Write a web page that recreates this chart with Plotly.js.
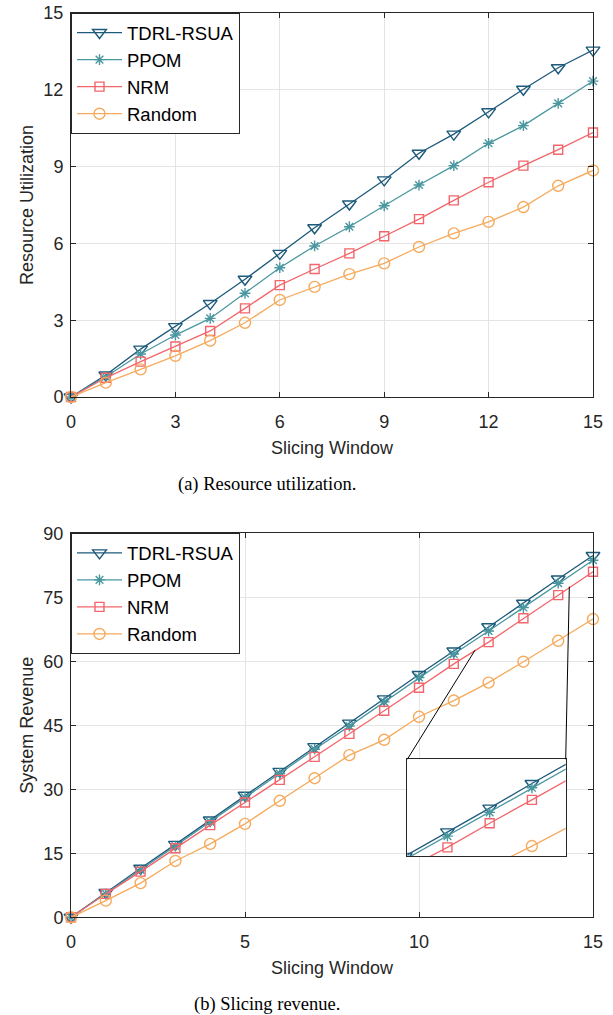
<!DOCTYPE html>
<html>
<head>
<meta charset="utf-8">
<script src="https://cdn.plot.ly/plotly-3.0.1.min.js"></script>
<style>html,body{margin:0;padding:0;background:#fff;}</style>
</head>
<body>
<div id="chart" style="width:613px;height:1015px;"></div>
<script>
// ---- data ----
const slots = [0,1,2,3,4,5,6,7,8,9,10,11,12,13,14,15];
const seriesNames = ['TDRL-RSUA','PPOM','NRM','Random'];

const utilTDRL   = [0,0.86,1.87,2.75,3.65,4.60,5.61,6.61,7.54,8.48,9.52,10.27,11.14,12.02,12.86,13.55];
const utilPPOM   = [0,0.79,1.68,2.42,3.07,4.05,5.05,5.90,6.65,7.47,8.28,9.04,9.91,10.60,11.47,12.34];
const utilNRM    = [0,0.75,1.38,1.97,2.58,3.46,4.37,5.00,5.61,6.28,6.95,7.68,8.39,9.04,9.66,10.33];
const utilRandom = [0,0.56,1.08,1.61,2.20,2.90,3.79,4.30,4.80,5.22,5.86,6.39,6.84,7.42,8.25,8.85];

const revTDRL   = [0,5.8,11.5,17.1,22.8,28.6,34.2,40.0,45.5,51.2,56.9,62.4,68.1,73.6,79.3,84.8];
const revPPOM   = [0,5.5,11.1,16.7,22.4,28.1,33.7,39.4,44.8,50.5,56.2,61.7,67.1,72.6,78.3,83.7];
const revNRM    = [0,5.5,10.7,16.2,21.6,26.9,32.2,37.6,43.0,48.4,53.8,59.4,64.5,70.1,75.5,81.0];
const revRandom = [0,3.9,8.0,13.2,17.2,21.9,27.3,32.6,38.0,41.6,47.0,50.8,55.0,59.9,64.8,69.9];

const utilTicks = [0,3,6,9,12,15];
const revXTicks = [0,5,10,15];
const revYTicks = [0,15,30,45,60,75,90];

// zoomed region of the inset (x: slicing window, y: revenue)
const insetXRange = [11.05, 14.8];
const insetYRange = [62.5, 84.9];
// points on the main curve that the inset connector lines point to
const connectX = [11.61, 14.32];
const connectY = [62.6, 77.5];

// ---- styling ----
const colors  = ['#1d5a7b','#4a97a0','#f2666b','#f6aa5c'];
const symbols = ['triangle-down-open','asterisk-open','square-open','circle-open'];
const msizes  = [12,9,9,11];
const FONT = '"Liberation Sans", Arial, Helvetica, sans-serif';
const SERIF = '"Liberation Serif", "Times New Roman", Times, serif';
const AX = '#262626';

const W = 613, H = 1015;
const xDom = [71/W, 593/W];
const yDomTop = [1-397/H, 1-13/H];
const yDomBot = [1-917.3/H, 1-533.3/H];
const xDomIn = [407.3/W, 565.7/W];
const yDomIn = [1-856/H, 1-759.3/H];

const utilSeries = [utilTDRL, utilPPOM, utilNRM, utilRandom];
const revSeries  = [revTDRL, revPPOM, revNRM, revRandom];

const traces = [];
function mk(y, i, xa, ya, legend, showlegend, clip) {
  return {
    x: slots, y: y, name: seriesNames[i], type: 'scatter', mode: 'lines+markers',
    xaxis: xa, yaxis: ya, legend: legend, showlegend: showlegend, cliponaxis: clip,
    line: {color: colors[i], width: 1.3},
    marker: {symbol: symbols[i], size: msizes[i], color: colors[i], line: {color: colors[i], width: 1.4}}
  };
}
utilSeries.forEach((s,i) => traces.push(mk(s, i, 'x', 'y', 'legend', true, false)));
revSeries.forEach((s,i) => traces.push(mk(s, i, 'x2', 'y2', 'legend2', true, false)));
revSeries.forEach((s,i) => traces.push(mk(s, i, 'x3', 'y3', 'legend2', false, true)));

function baseAxis(extra) {
  return Object.assign({
    showgrid: true, gridcolor: '#e4e4e4', gridwidth: 1,
    zeroline: false, showline: true, linecolor: AX, linewidth: 1, mirror: 'ticks',
    ticks: 'inside', ticklen: 5, tickcolor: AX, tickwidth: 1,
    tickfont: {family: FONT, size: 18, color: AX},
    fixedrange: true
  }, extra);
}

// map data coords of bottom main axes to paper coords
const xR2 = [0,15], yR2 = [0,90];
function px(v, r, d) { return d[0] + (v - r[0]) / (r[1] - r[0]) * (d[1] - d[0]); }

const shapes = [
  // white background of inset, hides the main grid behind it
  {type: 'rect', xref: 'x3', yref: 'y3',
   x0: insetXRange[0], x1: insetXRange[1], y0: insetYRange[0], y1: insetYRange[1],
   fillcolor: '#ffffff', line: {width: 0}, layer: 'below'},
  // connector lines
  {type: 'line', xref: 'paper', yref: 'paper',
   x0: xDomIn[0], y0: yDomIn[1], x1: px(connectX[0], xR2, xDom), y1: px(connectY[0], yR2, yDomBot),
   line: {color: '#000', width: 1}},
  {type: 'line', xref: 'paper', yref: 'paper',
   x0: xDomIn[1], y0: yDomIn[1], x1: px(connectX[1], xR2, xDom), y1: px(connectY[1], yR2, yDomBot),
   line: {color: '#000', width: 1}}
];

const legendBase = {
  xref: 'paper', yref: 'paper', xanchor: 'left', yanchor: 'top',
  bgcolor: '#ffffff', bordercolor: AX, borderwidth: 1,
  font: {family: FONT, size: 18.5, color: '#000'}, itemwidth: 45,
  tracegroupgap: 0
};

const layout = {
  width: W, height: H,
  margin: {l: 0, r: 0, t: 0, b: 0},
  paper_bgcolor: '#ffffff', plot_bgcolor: '#ffffff',
  font: {family: FONT, color: AX},
  showlegend: true,
  xaxis: baseAxis({domain: xDom, anchor: 'y', range: [0,15], tickvals: utilTicks,
    ticklabelstandoff: 8,
    title: {text: 'Slicing Window', font: {family: FONT, size: 18, color: AX}, standoff: 10}}),
  yaxis: baseAxis({domain: yDomTop, anchor: 'x', range: [0,15], tickvals: utilTicks,
    ticklabelstandoff: 3,
    title: {text: 'Resource Utilization', font: {family: FONT, size: 18, color: AX}, standoff: 5}}),
  xaxis2: baseAxis({domain: xDom, anchor: 'y2', range: [0,15], tickvals: revXTicks,
    ticklabelstandoff: 8,
    title: {text: 'Slicing Window', font: {family: FONT, size: 18, color: AX}, standoff: 10}}),
  yaxis2: baseAxis({domain: yDomBot, anchor: 'x2', range: [0,90], tickvals: revYTicks,
    ticklabelstandoff: 3,
    title: {text: 'System Revenue', font: {family: FONT, size: 18, color: AX}, standoff: 5}}),
  xaxis3: {domain: xDomIn, anchor: 'y3', range: insetXRange, showgrid: false, zeroline: false,
    showline: true, mirror: true, linecolor: AX, linewidth: 1, showticklabels: false, ticks: '', fixedrange: true},
  yaxis3: {domain: yDomIn, anchor: 'x3', range: insetYRange, showgrid: false, zeroline: false,
    showline: true, mirror: true, linecolor: AX, linewidth: 1, showticklabels: false, ticks: '', fixedrange: true},
  legend: Object.assign({}, legendBase, {x: xDom[0], y: yDomTop[1]}),
  legend2: Object.assign({}, legendBase, {x: xDom[0], y: yDomBot[1]}),
  shapes: shapes,
  annotations: [
    {text: '(a) Resource utilization.', xref: 'paper', yref: 'paper', x: 267/W, y: 1-484/H,
     xanchor: 'center', yanchor: 'middle', showarrow: false, font: {family: SERIF, size: 18.5, color: '#000'}},
    {text: '(b) Slicing revenue.', xref: 'paper', yref: 'paper', x: 267/W, y: 1-1004/H,
     xanchor: 'center', yanchor: 'middle', showarrow: false, font: {family: SERIF, size: 18.5, color: '#000'}}
  ]
};

Plotly.newPlot('chart', traces, layout, {displayModeBar: false, staticPlot: true});
</script>
</body>
</html>
